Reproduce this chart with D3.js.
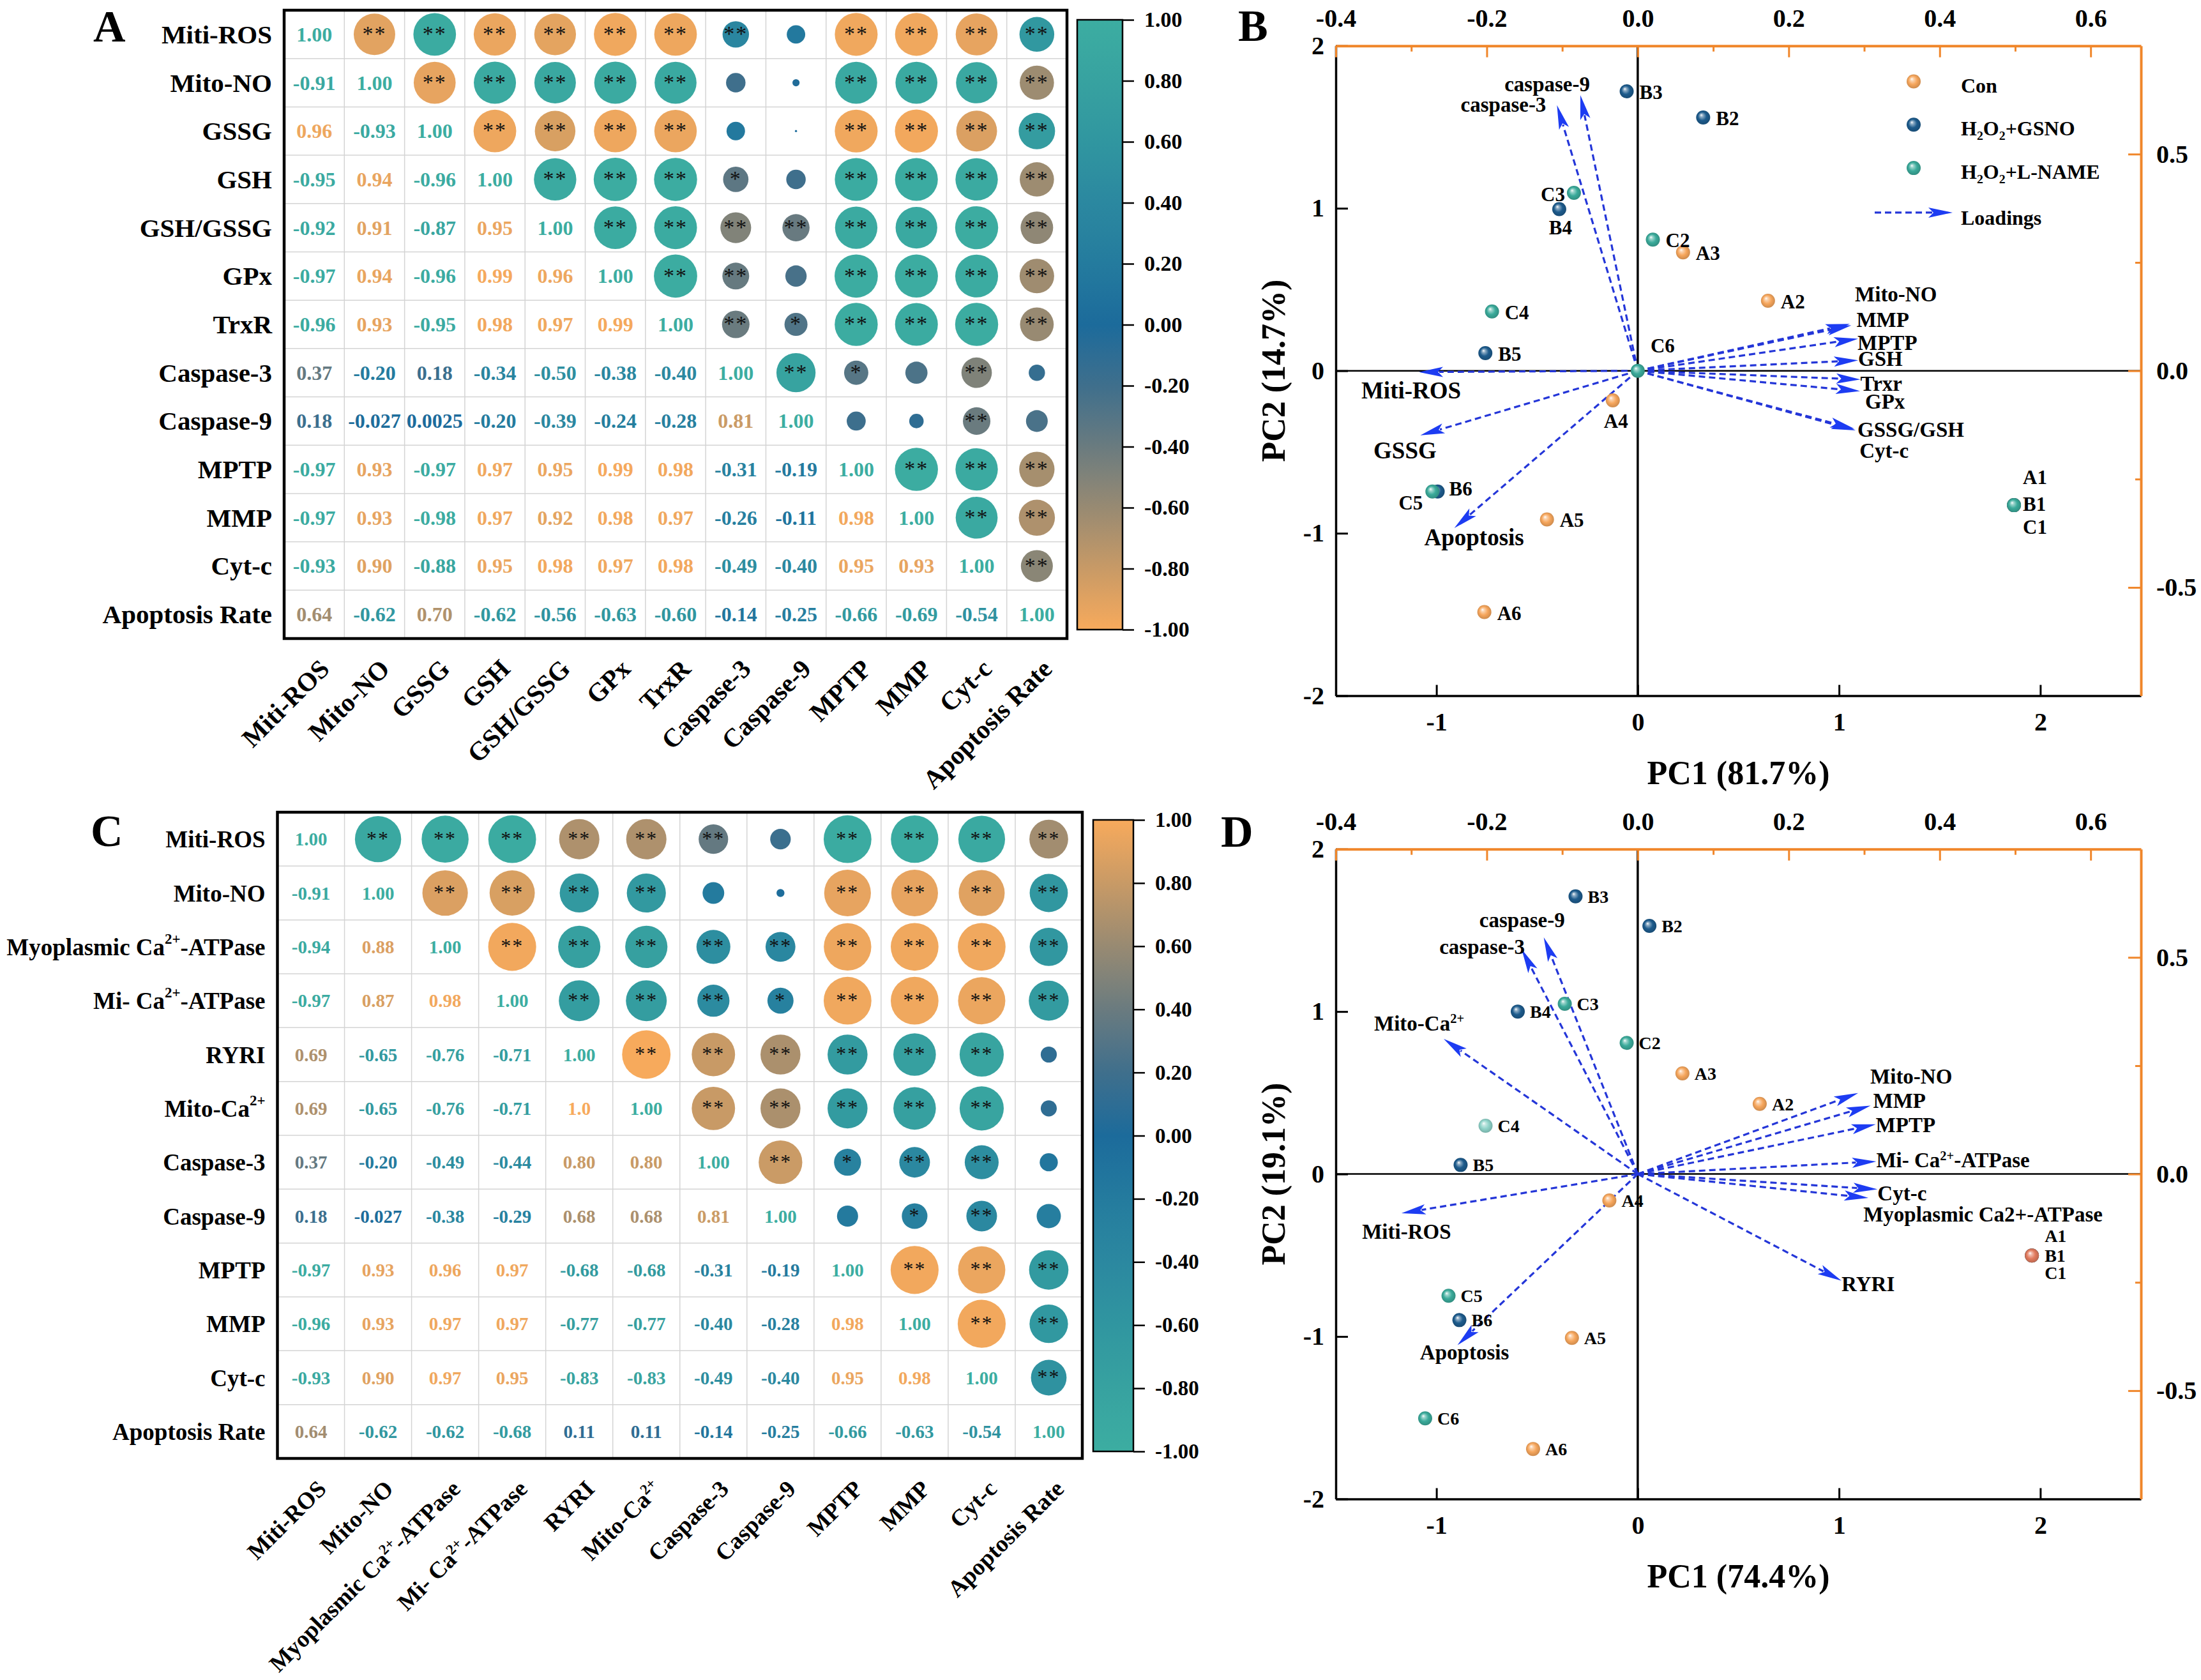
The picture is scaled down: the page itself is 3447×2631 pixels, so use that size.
<!DOCTYPE html>
<html><head><meta charset="utf-8">
<script src="https://cdn.jsdelivr.net/npm/d3@7"></script>
<style>body{margin:0;background:#fff}</style>
</head><body><svg id="chart" width="3447" height="2631"></svg>
<script>
// ================= DATA =================
const varsA = ["Miti-ROS","Mito-NO","GSSG","GSH","GSH/GSSG","GPx","TrxR","Caspase-3","Caspase-9","MPTP","MMP","Cyt-c","Apoptosis Rate"];
const corrA = [
 ["1.00"],
 ["-0.91","1.00"],
 ["0.96","-0.93","1.00"],
 ["-0.95","0.94","-0.96","1.00"],
 ["-0.92","0.91","-0.87","0.95","1.00"],
 ["-0.97","0.94","-0.96","0.99","0.96","1.00"],
 ["-0.96","0.93","-0.95","0.98","0.97","0.99","1.00"],
 ["0.37","-0.20","0.18","-0.34","-0.50","-0.38","-0.40","1.00"],
 ["0.18","-0.027","0.0025","-0.20","-0.39","-0.24","-0.28","0.81","1.00"],
 ["-0.97","0.93","-0.97","0.97","0.95","0.99","0.98","-0.31","-0.19","1.00"],
 ["-0.97","0.93","-0.98","0.97","0.92","0.98","0.97","-0.26","-0.11","0.98","1.00"],
 ["-0.93","0.90","-0.88","0.95","0.98","0.97","0.98","-0.49","-0.40","0.95","0.93","1.00"],
 ["0.64","-0.62","0.70","-0.62","-0.56","-0.63","-0.60","-0.14","-0.25","-0.66","-0.69","-0.54","1.00"]
];
const sigA = [
 ["**","**","**","**","**","**","**","","**","**","**","**"],
 ["**","**","**","**","**","","","**","**","**","**"],
 ["**","**","**","**","","","**","**","**","**"],
 ["**","**","**","*","","**","**","**","**"],
 ["**","**","**","**","**","**","**","**"],
 ["**","**","","**","**","**","**"],
 ["**","*","**","**","**","**"],
 ["**","*","","**",""],
 ["","","**",""],
 ["**","**","**"],
 ["**","**"],
 ["**"],
 []
];

const varsC = ["Miti-ROS","Mito-NO","Myoplasmic Ca^2+^-ATPase","Mi- Ca^2+^-ATPase","RYRI","Mito-Ca^2+^","Caspase-3","Caspase-9","MPTP","MMP","Cyt-c","Apoptosis Rate"];
const corrC = [
 ["1.00"],
 ["-0.91","1.00"],
 ["-0.94","0.88","1.00"],
 ["-0.97","0.87","0.98","1.00"],
 ["0.69","-0.65","-0.76","-0.71","1.00"],
 ["0.69","-0.65","-0.76","-0.71","1.0","1.00"],
 ["0.37","-0.20","-0.49","-0.44","0.80","0.80","1.00"],
 ["0.18","-0.027","-0.38","-0.29","0.68","0.68","0.81","1.00"],
 ["-0.97","0.93","0.96","0.97","-0.68","-0.68","-0.31","-0.19","1.00"],
 ["-0.96","0.93","0.97","0.97","-0.77","-0.77","-0.40","-0.28","0.98","1.00"],
 ["-0.93","0.90","0.97","0.95","-0.83","-0.83","-0.49","-0.40","0.95","0.98","1.00"],
 ["0.64","-0.62","-0.62","-0.68","0.11","0.11","-0.14","-0.25","-0.66","-0.63","-0.54","1.00"]
];
const sigC = [
 ["**","**","**","**","**","**","","**","**","**","**"],
 ["**","**","**","**","","","**","**","**","**"],
 ["**","**","**","**","**","**","**","**","**"],
 ["**","**","**","*","**","**","**","**"],
 ["**","**","**","**","**","**",""],
 ["**","**","**","**","**",""],
 ["**","*","**","**",""],
 ["","*","**",""],
 ["**","**","**"],
 ["**","**"],
 ["**"],
 []
];
const colorbarTicks = [-1,-0.8,-0.6,-0.4,-0.2,0,0.2,0.4,0.6,0.8,1];

// PCA scores (PC1, PC2)
const groups = ["Con","GSNO","LNAME"];
const groupLabels = ["Con","H_2_O_2_+GSNO","H_2_O_2_+L-NAME"];
const scoresB = [
 {id:"A1",g:"Con",pc1:1.869,pc2:-0.827},{id:"A2",g:"Con",pc1:0.647,pc2:0.431},{id:"A3",g:"Con",pc1:0.225,pc2:0.729},
 {id:"A4",g:"Con",pc1:-0.124,pc2:-0.182},{id:"A5",g:"Con",pc1:-0.451,pc2:-0.915},{id:"A6",g:"Con",pc1:-0.762,pc2:-1.485},
 {id:"B1",g:"GSNO",pc1:1.869,pc2:-0.827},{id:"B2",g:"GSNO",pc1:0.325,pc2:1.559},{id:"B3",g:"GSNO",pc1:-0.055,pc2:1.72},
 {id:"B4",g:"GSNO",pc1:-0.39,pc2:0.995},{id:"B5",g:"GSNO",pc1:-0.757,pc2:0.109},{id:"B6",g:"GSNO",pc1:-0.994,pc2:-0.743},
 {id:"C1",g:"LNAME",pc1:1.869,pc2:-0.827},{id:"C2",g:"LNAME",pc1:0.075,pc2:0.807},{id:"C3",g:"LNAME",pc1:-0.317,pc2:1.095},
 {id:"C4",g:"LNAME",pc1:-0.724,pc2:0.365},{id:"C5",g:"LNAME",pc1:-1.02,pc2:-0.743},{id:"C6",g:"LNAME",pc1:0.0,pc2:0.0}
];
const scoresD = [
 {id:"A1",g:"Con",pc1:1.958,pc2:-0.502},{id:"A2",g:"Con",pc1:0.606,pc2:0.432},{id:"A3",g:"Con",pc1:0.222,pc2:0.619},
 {id:"A4",g:"Con",pc1:-0.141,pc2:-0.163},{id:"A5",g:"Con",pc1:-0.327,pc2:-1.009},{id:"A6",g:"Con",pc1:-0.52,pc2:-1.692},
 {id:"B1",g:"GSNO",pc1:1.958,pc2:-0.502},{id:"B2",g:"GSNO",pc1:0.058,pc2:1.527},{id:"B3",g:"GSNO",pc1:-0.309,pc2:1.709},
 {id:"B4",g:"GSNO",pc1:-0.596,pc2:1.0},{id:"B5",g:"GSNO",pc1:-0.88,pc2:0.056},{id:"B6",g:"GSNO",pc1:-0.886,pc2:-0.899},
 {id:"C1",g:"LNAME",pc1:1.958,pc2:-0.502},{id:"C2",g:"LNAME",pc1:-0.055,pc2:0.807},{id:"C3",g:"LNAME",pc1:-0.3625,pc2:1.048},
 {id:"C4",g:"LNAME",pc1:-0.756,pc2:0.297},{id:"C5",g:"LNAME",pc1:-0.94,pc2:-0.749},{id:"C6",g:"LNAME",pc1:-1.056,pc2:-1.504}
];
// loadings (top / right axes)
const loadingsB = [
 {name:"caspase-9",x:-0.076,y:0.636},{name:"caspase-3",x:-0.107,y:0.613},
 {name:"Miti-ROS",x:-0.290,y:-0.003},{name:"GSSG",x:-0.288,y:-0.149},{name:"Apoptosis",x:-0.243,y:-0.363},
 {name:"Mito-NO",x:0.281,y:0.108},{name:"MMP",x:0.283,y:0.105},{name:"MPTP",x:0.292,y:0.074},
 {name:"GSH",x:0.292,y:0.024},{name:"Trxr",x:0.295,y:-0.020},{name:"GPx",x:0.2945,y:-0.047},
 {name:"GSSG/GSH",x:0.2886,y:-0.1375},{name:"Cyt-c",x:0.287,y:-0.134}
];
const loadingsD = [
 {name:"caspase-9",x:-0.1245,y:0.546},{name:"caspase-3",x:-0.1538,y:0.519},{name:"Mito-Ca^2+^",x:-0.257,y:0.312},
 {name:"Miti-ROS",x:-0.313,y:-0.0906},{name:"Apoptosis",x:-0.2388,y:-0.395},
 {name:"Mito-NO",x:0.292,y:0.187},{name:"MMP",x:0.3085,y:0.158},{name:"MPTP",x:0.3153,y:0.1147},
 {name:"Mi- Ca^2+^-ATPase",x:0.316,y:0.029},{name:"Cyt-c",x:0.3176,y:-0.0353},
 {name:"Myoplasmic Ca2+-ATPase",x:0.3056,y:-0.0553},{name:"RYRI",x:0.27,y:-0.2465}
];
const pcTicksX = [-1,0,1,2], pcTicksY = [-2,-1,0,1,2];
const loadTicksX = [-0.4,-0.2,0.0,0.2,0.4,0.6], loadMinorX = [-0.3,-0.1,0.1,0.3,0.5];
const loadTicksY = [-0.5,0.0,0.5], loadMinorY = [-0.25,0.25];
const varianceB = ["PC1 (81.7%)","PC2 (14.7%)"], varianceD = ["PC1 (74.4%)","PC2 (19.1%)"];

// ================= STYLE / LAYOUT =================
const FONT = "'Liberation Serif','Times New Roman',Times,serif";
const stops = ["#3cada1","#37a2a0","#3096a0","#2b88a0","#247b9e","#1c6b9b","#3f6f8c","#6a7b7f","#988a72","#c89a66","#f7aa5c"];
const ramp = d3.piecewise(d3.interpolateRgb, stops); // 0 teal -> 1 orange
const colorA = v => ramp((1 - v) / 2);
const colorC = v => ramp((1 + v) / 2);
const groupColor = {Con:"#F6A65C", GSNO:"#1D5B8C", LNAME:"#3AAA9A"};
const ORANGE = "#F0862A";

const svg = d3.select("#chart");
svg.append("rect").attr("width",3447).attr("height",2631).attr("fill","#fff");
const defs = svg.append("defs");

function rich(sel, str, size) {
  const parts = str.split(/(\^[^^]*\^|_[^_]*_)/).filter(s => s.length);
  let shift = 0;
  parts.forEach(p => {
    let t = p, target = 0, fs = size;
    if (p.length > 1 && p[0] === "^" && p.endsWith("^")) { t = p.slice(1,-1); target = -0.36*size; fs = 0.62*size; }
    else if (p.length > 1 && p[0] === "_" && p.endsWith("_")) { t = p.slice(1,-1); target = 0.2*size; fs = 0.62*size; }
    sel.append("tspan").attr("dy", target - shift).attr("font-size", fs).text(t);
    shift = target;
  });
  return sel;
}
function txt(g, x, y, size, anchor) {
  return g.append("text").attr("x",x).attr("y",y).attr("font-family",FONT).attr("font-weight","bold")
    .attr("font-size",size).attr("text-anchor",anchor||"start").attr("fill","#000");
}

// ================= MATRIX =================
function drawMatrix(o) {
  const n = o.vars.length;
  const val = (i,j) => o.lower[Math.max(i,j)][Math.min(i,j)];
  const xb = d3.scaleBand().domain(d3.range(n)).range([o.x0,o.x1]);
  const yb = d3.scaleBand().domain(d3.range(n)).range([o.y0,o.y1]);
  const bw = xb.bandwidth(), bh = yb.bandwidth();
  const rs = d3.scaleSqrt().domain([0,1]).range([0, 0.45*Math.min(bw,bh)]);
  const g = svg.append("g");
  g.selectAll("line.v").data(d3.range(1,n)).join("line")
    .attr("x1",d=>xb(d)).attr("x2",d=>xb(d)).attr("y1",o.y0).attr("y2",o.y1)
    .attr("stroke","#d4d4d4").attr("stroke-width",1.5);
  g.selectAll("line.h").data(d3.range(1,n)).join("line")
    .attr("y1",d=>yb(d)).attr("y2",d=>yb(d)).attr("x1",o.x0).attr("x2",o.x1)
    .attr("stroke","#d4d4d4").attr("stroke-width",1.5);
  const cells = [];
  for (let i=0;i<n;i++) for (let j=0;j<n;j++) {
    cells.push({i, j, s: val(i,j), v: +val(i,j), star: j>i ? o.sig[i][j-i-1] : ""});
  }
  const upper = cells.filter(c => c.j > c.i), lower = cells.filter(c => c.j <= c.i);
  g.selectAll("circle").data(upper).join("circle")
    .attr("cx", c => xb(c.j)+bw/2).attr("cy", c => yb(c.i)+bh/2)
    .attr("r", c => rs(Math.abs(c.v))).attr("fill", c => o.circleColor(c.v));
  g.selectAll("text.star").data(upper.filter(c=>c.star)).join("text")
    .attr("x", c => xb(c.j)+bw/2).attr("y", c => yb(c.i)+bh/2 + o.starSize*0.3)
    .attr("text-anchor","middle").attr("font-family",FONT).attr("font-size",o.starSize)
    .attr("letter-spacing", 2).attr("fill","#111").text(c => c.star);
  g.selectAll("text.val").data(lower).join("text")
    .attr("x", c => xb(c.j)+bw/2).attr("y", c => yb(c.i)+bh/2)
    .attr("text-anchor","middle").attr("dominant-baseline","central")
    .attr("font-family",FONT).attr("font-weight","bold").attr("font-size",o.valSize)
    .attr("fill", c => c.i===c.j ? ramp(0) : colorC(c.v)).text(c => c.s);
  g.append("rect").attr("x",o.x0).attr("y",o.y0).attr("width",o.x1-o.x0).attr("height",o.y1-o.y0)
    .attr("fill","none").attr("stroke","#000").attr("stroke-width",4.5);
  // row labels
  o.vars.forEach((v,i) => {
    rich(txt(g, o.x0-19, yb(i)+bh/2, o.labSize, "end").attr("dominant-baseline","central"), v, o.labSize);
  });
  // column labels
  o.vars.forEach((v,i) => {
    const t = g.append("text").attr("transform",`translate(${xb(i)+bw/2+26},${o.y1+50}) rotate(-45)`)
      .attr("font-family",FONT).attr("font-weight","bold").attr("font-size",o.colSize).attr("text-anchor","end");
    rich(t, v, o.colSize);
  });
  // colorbar
  const cb = o.cb;
  const gid = "grad"+o.id;
  const lg = defs.append("linearGradient").attr("id",gid).attr("x1",0).attr("y1",1).attr("x2",0).attr("y2",0);
  d3.range(0,1.0001,0.05).forEach(t => lg.append("stop").attr("offset",t).attr("stop-color",o.circleColor(-1+2*t)));
  const cs = d3.scaleLinear([-1,1],[cb.y1,cb.y0]);
  g.append("rect").attr("x",cb.x0).attr("y",cb.y0).attr("width",cb.x1-cb.x0).attr("height",cb.y1-cb.y0)
    .attr("fill",`url(#${gid})`).attr("stroke","#000").attr("stroke-width",2.5);
  const ax = g.append("g").attr("transform",`translate(${cb.x1},0)`)
    .call(d3.axisRight(cs).tickValues(colorbarTicks).tickSize(18).tickPadding(16).tickFormat(v => v.toFixed(2)));
  ax.select(".domain").remove();
  ax.attr("font-family",FONT).attr("font-size",o.cbSize).attr("font-weight","bold");
  ax.selectAll("line").attr("stroke","#000").attr("stroke-width",2.5);
  ax.selectAll("text").attr("fill","#000");
  txt(g, o.letter[0], o.letter[1], 70).text(o.letter[2]);
}

drawMatrix({id:"A", vars:varsA, lower:corrA, sig:sigA, x0:445, x1:1671, y0:16, y1:1000,
  circleColor: colorA, valSize:32, starSize:34, labSize:41, colSize:41, cbSize:34,
  cb:{x0:1687, x1:1758, y0:31, y1:986}, letter:[146,65,"A"]});
drawMatrix({id:"C", vars:varsC, lower:corrC, sig:sigC, x0:434.5, x1:1695, y0:1272, y1:2284,
  circleColor: colorC, valSize:29, starSize:32, labSize:37, colSize:37, cbSize:33,
  cb:{x0:1712, x1:1775, y0:1284, y1:2273}, letter:[142,1325,"C"]});

// ================= PCA BIPLOTS =================
function sphere(color) {
  const id = "sph" + color.replace("#","");
  if (defs.select("#"+id).empty()) {
    const rg = defs.append("radialGradient").attr("id",id).attr("cx",0.5).attr("cy",0.5).attr("r",0.55).attr("fx",0.36).attr("fy",0.32);
    rg.append("stop").attr("offset",0).attr("stop-color","#ffffff");
    rg.append("stop").attr("offset",0.2).attr("stop-color",d3.interpolateRgb(color,"#fff")(0.5));
    rg.append("stop").attr("offset",0.55).attr("stop-color",color);
    rg.append("stop").attr("offset",1).attr("stop-color",d3.color(color).darker(0.6).formatHex());
  }
  return `url(#${id})`;
}
function arrow(g, x0, y0, x1, y1) {
  const dx = x1-x0, dy = y1-y0, len = Math.hypot(dx,dy), ux = dx/len, uy = dy/len;
  const L = 38, hw = 8;
  const bx = x1-ux*L, by = y1-uy*L;
  g.append("line").attr("x1",x0).attr("y1",y0).attr("x2",bx+ux*6).attr("y2",by+uy*6)
    .attr("stroke","#2436d8").attr("stroke-width",3.2).attr("stroke-dasharray","10,6");
  g.append("polygon").attr("points",`${x1},${y1} ${bx-uy*hw},${by+ux*hw} ${bx+ux*8},${by+uy*8} ${bx+uy*hw},${by-ux*hw}`)
    .attr("fill","#1d3cf2");
}

function drawPCA(o) {
  const L = 2092, R = 3353, T = o.top, B = o.bottom;
  const x = d3.scaleLinear([-1.5,2.5],[L,R]);
  const y = d3.scaleLinear([-2,2],[B,T]);
  const xl = d3.scaleLinear([-0.4,0.4/1.5*2.5],[L,R]);
  const yl = d3.scaleLinear([-0.75,0.75],[B,T]);
  const g = svg.append("g");
  // zero lines
  g.append("line").attr("x1",L).attr("x2",R).attr("y1",y(0)).attr("y2",y(0)).attr("stroke","#000").attr("stroke-width",2.5);
  g.append("line").attr("x1",x(0)).attr("x2",x(0)).attr("y1",T).attr("y2",B).attr("stroke","#000").attr("stroke-width",3.5);
  // loadings
  const ga = g.append("g");
  o.loadings.forEach(d => arrow(ga, xl(0), yl(0), xl(d.x), yl(d.y)));
  // points
  o.scores.forEach(d => {
    const c = o.override[d.id] || groupColor[d.g];
    g.append("circle").attr("cx",x(d.pc1)).attr("cy",y(d.pc2)).attr("r",11).attr("fill",sphere(c));
  });
  o.scores.forEach(d => {
    const off = o.ptOff[d.id] || o.ptDefault;
    txt(g, x(d.pc1)+off[0], y(d.pc2)+off[1], o.ptSize, off[2]||"start").text(d.id);
  });
  o.loadings.forEach(d => {
    const off = o.ldOff[d.name];
    const size = (o.ldSize && o.ldSize[d.name]) || 33;
    rich(txt(g, xl(d.x)+off[1], yl(d.y)+off[2], size, off[0]), d.name, size);
  });
  // axes
  const styleAx = (a, color, w) => {
    a.attr("font-family",FONT).attr("font-size",40).attr("font-weight","bold");
    a.select(".domain").attr("stroke",color).attr("stroke-width",w);
    a.selectAll(".tick line").attr("stroke",color).attr("stroke-width",3);
    a.selectAll("text").attr("fill","#000");
  };
  styleAx(g.append("g").attr("transform",`translate(${L},0)`)
    .call(d3.axisLeft(y).tickValues(pcTicksY).tickSize(-19).tickSizeOuter(0).tickPadding(18).tickFormat(v=>String(v))), "#000", 3.5);
  styleAx(g.append("g").attr("transform",`translate(0,${B})`)
    .call(d3.axisBottom(x).tickValues(pcTicksX).tickSize(-17).tickSizeOuter(0).tickPadding(26).tickFormat(v=>String(v))), "#000", 3.5);
  const top = g.append("g").attr("transform",`translate(0,${T})`)
    .call(d3.axisTop(xl).tickValues(loadTicksX).tickSize(-18).tickSizeOuter(0).tickPadding(30).tickFormat(v=>v.toFixed(1)));
  styleAx(top, ORANGE, 4);
  g.append("g").attr("transform",`translate(0,${T})`)
    .call(d3.axisTop(xl).tickValues(loadMinorX).tickSize(-9).tickSizeOuter(0).tickFormat(""))
    .call(a => { a.select(".domain").remove(); a.selectAll("line").attr("stroke",ORANGE).attr("stroke-width",3); });
  const right = g.append("g").attr("transform",`translate(${R},0)`)
    .call(d3.axisRight(yl).tickValues(loadTicksY).tickSize(-20).tickSizeOuter(0).tickPadding(24).tickFormat(v=>v.toFixed(1)));
  styleAx(right, ORANGE, 4);
  g.append("g").attr("transform",`translate(${R},0)`)
    .call(d3.axisRight(yl).tickValues(loadMinorY).tickSize(-9).tickSizeOuter(0).tickFormat(""))
    .call(a => { a.select(".domain").remove(); a.selectAll("line").attr("stroke",ORANGE).attr("stroke-width",3); });
  // titles
  txt(g, (L+R)/2, B+138, 52, "middle").text(o.titles[0]);
  txt(g, 0, 0, 52, "middle").attr("transform",`translate(2012,${(T+B)/2}) rotate(-90)`).text(o.titles[1]);
  txt(g, o.letter[0], o.letter[1], 70).text(o.letter[2]);
  // legend
  if (o.legend) {
    const lx = 2997, ly0 = 127.5, step = 67.8;
    groups.forEach((gr,i) => {
      g.append("circle").attr("cx",lx).attr("cy",ly0+i*step).attr("r",11).attr("fill",sphere(groupColor[gr]));
      rich(txt(g, 3071, ly0+i*step+17, 32), groupLabels[i], 32);
    });
    const yy = ly0 + 3*step + 2;
    arrow(g, 2936, yy, 3058, yy);
    txt(g, 3071, yy+19, 32).text("Loadings");
  }
}

drawPCA({top:71.7, bottom:1089.6, scores:scoresB, loadings:loadingsB, titles:varianceB, legend:true,
  letter:[1939,64,"B"], override:{}, ptSize:31, ptDefault:[20,12],
  ptOff:{C3:[-14,13.5,"end"], B4:[2,40,"middle"], C6:[20,-28.5], A4:[5,43,"middle"], C5:[-15,28,"end"], B6:[18,6],
         A1:[14,-33], B1:[14,9], C1:[14,45]},
  ldSize:{"Miti-ROS":37, "GSSG":37, "Apoptosis":37},
  ldOff:{"caspase-9":["end",15,-6], "caspase-3":["end",-17,10], "Miti-ROS":["middle",-12,41], "GSSG":["middle",-24,36],
         "Apoptosis":["middle",31,27], "Mito-NO":["start",8,-35], "MMP":["start",8,3], "MPTP":["start",-1,18],
         "GSH":["start",0,9], "Trxr":["start",0,18], "GPx":["start",8,27], "GSSG/GSH":["start",3,10], "Cyt-c":["start",8,45]}});

drawPCA({top:1329.7, bottom:2347.5, scores:scoresD, loadings:loadingsD, titles:varianceD, legend:false,
  letter:[1912,1326,"D"], override:{C4:"#8FD3C9", C1:"#E27B5E"}, ptSize:28, ptDefault:[19,10],
  ptOff:{A1:[20,-21], B1:[20,10], C1:[20,37]},
  ldOff:{"caspase-9":["end",33,-16], "caspase-3":["end",5,8], "Mito-Ca^2+^":["end",32,-13], "Miti-ROS":["middle",8,40],
         "Apoptosis":["middle",11,22], "Mito-NO":["start",19,-15], "MMP":["start",4,4], "MPTP":["start",0,12],
         "Mi- Ca^2+^-ATPase":["start",0,9.5], "Cyt-c":["start",0,17.6], "Myoplasmic Ca2+-ATPase":["start",-8,37], "RYRI":["start",0,16]}});
</script>
</body></html>
